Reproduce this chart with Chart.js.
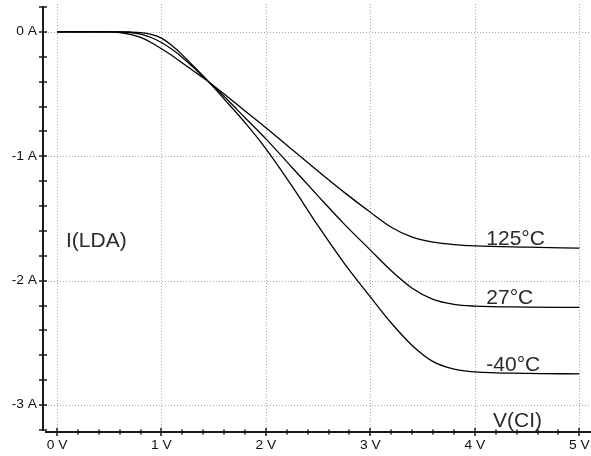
<!DOCTYPE html>
<html>
<head>
<meta charset="utf-8">
<script src="https://cdn.jsdelivr.net/npm/chart.js@4"></script>
<style>
html,body{margin:0;padding:0;background:#fff;}
#wrap{width:591px;height:456px;}
</style>
</head>
<body>
<div id="wrap"><canvas id="c" width="591" height="456"></canvas></div>
<script>
// Sweep voltage V(CI) in volts
const voltages = [0, 0.5, 0.6, 0.7, 0.8, 0.9, 1.0, 1.1, 1.2, 1.3, 1.45, 1.6, 1.8, 2.0, 2.25, 2.5, 2.75, 3.0, 3.2, 3.4, 3.6, 3.8, 4.0, 4.5, 5.0];
// I(LDA) in amperes for each temperature
const current125 = [0, 0, -0.005, -0.02, -0.045, -0.085, -0.135, -0.19, -0.25, -0.31, -0.40, -0.50, -0.635, -0.77, -0.945, -1.12, -1.29, -1.45, -1.57, -1.65, -1.69, -1.71, -1.72, -1.73, -1.738];
const current27 = [0, 0, 0, -0.005, -0.018, -0.045, -0.085, -0.14, -0.205, -0.28, -0.40, -0.52, -0.69, -0.86, -1.09, -1.32, -1.545, -1.754, -1.92, -2.06, -2.15, -2.19, -2.204, -2.212, -2.215];
const currentM40 = [0, 0, 0, -0.001, -0.006, -0.02, -0.05, -0.11, -0.185, -0.27, -0.40, -0.54, -0.73, -0.94, -1.24, -1.56, -1.86, -2.13, -2.34, -2.52, -2.65, -2.71, -2.733, -2.745, -2.749];
const seriesLabels = ['125°C', '27°C', '-40°C'];
// Axis ticks
const xMajorTicks = [0, 1, 2, 3, 4, 5];
const xTickLabels = ['0 V', '1 V', '2 V', '3 V', '4 V', '5 V'];
const yMajorTicks = [0, -1, -2, -3];
const yTickLabels = ['0 A', '-1 A', '-2 A', '-3 A'];
const yAxisTitle = 'I(LDA)';
const xAxisTitle = 'V(CI)';

function toPoints(vals) { return voltages.map((v, i) => ({x: v, y: vals[i]})); }

const axesPlugin = {
  id: 'spiceAxes',
  beforeDatasetsDraw(chart) {
    const ctx = chart.ctx, xs = chart.scales.x, ys = chart.scales.y;
    ctx.save();
    // dotted grid
    ctx.strokeStyle = '#a8a8a8';
    ctx.lineWidth = 1;
    ctx.setLineDash([1, 2]);
    xMajorTicks.forEach(v => {
      const px = Math.round(xs.getPixelForValue(v)) + 0.5;
      ctx.beginPath(); ctx.moveTo(px, 4); ctx.lineTo(px, 430); ctx.stroke();
    });
    yMajorTicks.forEach(v => {
      const py = Math.round(ys.getPixelForValue(v)) + 0.5;
      ctx.beginPath(); ctx.moveTo(45, py); ctx.lineTo(591, py); ctx.stroke();
    });
    ctx.setLineDash([]);
    // y axis line
    ctx.strokeStyle = '#1a1a1a';
    ctx.lineWidth = 2;
    ctx.beginPath(); ctx.moveTo(43, 6); ctx.lineTo(43, 431); ctx.stroke();
    // x axis line
    ctx.beginPath(); ctx.moveTo(45, 432); ctx.lineTo(591, 432); ctx.stroke();
    // y ticks every 0.2 A
    ctx.lineWidth = 1.5;
    for (let k = -16; k <= 1; k++) {
      const py = Math.round(ys.getPixelForValue(k * 0.2));
      ctx.beginPath(); ctx.moveTo(39, py); ctx.lineTo(47, py); ctx.stroke();
    }
    // x ticks every 0.2 V
    for (let k = 0; k <= 25; k++) {
      const px = Math.round(xs.getPixelForValue(k * 0.2));
      const major = k % 5 === 0;
      ctx.beginPath(); ctx.moveTo(px, major ? 428 : 429.5); ctx.lineTo(px, major ? 436 : 434.5); ctx.stroke();
    }
    // tick labels
    ctx.fillStyle = '#111';
    ctx.font = '12px "Liberation Sans", Arial, sans-serif';
    ctx.textBaseline = 'middle';
    yMajorTicks.forEach((v, i) => {
      const py = ys.getPixelForValue(v);
      ctx.save();
      ctx.translate(37, py);
      ctx.scale(1.15, 1);
      ctx.textAlign = 'right';
      ctx.fillText(yTickLabels[i], 0, 0);
      ctx.restore();
    });
    xMajorTicks.forEach((v, i) => {
      const px = xs.getPixelForValue(v);
      ctx.save();
      ctx.translate(px, 445.5);
      ctx.scale(1.15, 1);
      ctx.textAlign = 'center';
      ctx.fillText(xTickLabels[i], 0, 0);
      ctx.restore();
    });
    ctx.restore();
  },
  afterDatasetsDraw(chart) {
    const ctx = chart.ctx, xs = chart.scales.x, ys = chart.scales.y;
    ctx.save();
    ctx.fillStyle = '#2a2a2a';
    ctx.font = '21px "Liberation Sans", Arial, sans-serif';
    ctx.textAlign = 'left';
    ctx.textBaseline = 'alphabetic';
    ctx.fillText(yAxisTitle, 66, 247);
    const lastY = [current125, current27, currentM40].map(a => a[a.length - 1]);
    seriesLabels.forEach((t, i) => {
      ctx.fillText(t, xs.getPixelForValue(4.11), ys.getPixelForValue(lastY[i]) - 3);
    });
    ctx.fillText(xAxisTitle, 493, 427);
    ctx.restore();
  }
};

const mk = (label, vals) => ({
  label, data: toPoints(vals),
  borderColor: '#000', borderWidth: 1.3, pointRadius: 0,
  fill: false, cubicInterpolationMode: 'monotone'
});

new Chart(document.getElementById('c'), {
  type: 'line',
  data: { datasets: [mk(seriesLabels[0], current125), mk(seriesLabels[1], current27), mk(seriesLabels[2], currentM40)] },
  options: {
    responsive: false,
    devicePixelRatio: 1,
    animation: false,
    layout: { padding: { left: 44, top: 7, right: 0, bottom: 26 } },
    plugins: { legend: { display: false }, tooltip: { enabled: false } },
    scales: {
      x: { type: 'linear', min: -0.1245, max: 5.112, display: false },
      y: { type: 'linear', min: -3.2, max: 0.2, display: false }
    }
  },
  plugins: [axesPlugin]
});
</script>
</body>
</html>
